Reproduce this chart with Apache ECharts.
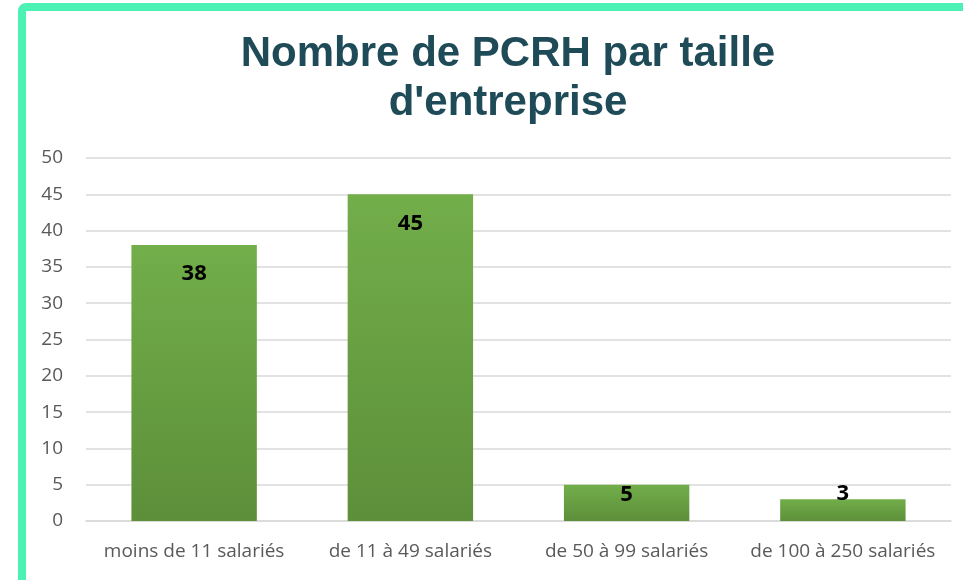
<!DOCTYPE html>
<html>
<head>
<meta charset="utf-8">
<script src="https://cdn.jsdelivr.net/npm/echarts@6/dist/echarts.min.js"></script>
<style>
  html, body { margin: 0; padding: 0; background: #fff; }
  #chart { width: 963px; height: 580px; }
</style>
</head>
<body>
<div id="chart"></div>
<script>
// données
const categories = ["moins de 11 salariés", "de 11 à 49 salariés", "de 50 à 99 salariés", "de 100 à 250 salariés"];
const values = [38, 45, 5, 3];
const titleText = "Nombre de PCRH par taille\nd'entreprise";

const chart = echarts.init(document.getElementById("chart"));

// étiquette dans la barre, sauf pour les petites valeurs
const seriesData = values.map(function (v) {
  if (v >= 10) {
    return { value: v, label: { position: "insideTop", distance: 18 } };
  }
  return { value: v, label: { position: "top", distance: v > 4 ? -21 : -6 } };
});

const option = {
  animation: false,
  graphic: [
    {
      type: "rect",
      shape: { x: 22, y: 7, width: 1000, height: 578, r: 4 },
      style: { fill: "none", stroke: "#4cf2b4", lineWidth: 8 },
      silent: true
    }
  ],
  title: {
    text: titleText,
    left: 503,
    textAlign: "center",
    top: 25,
    textStyle: {
      fontFamily: "Liberation Sans",
      fontWeight: "bold",
      fontSize: 42,
      lineHeight: 49,
      color: "#1e4b57"
    }
  },
  grid: { left: 86, right: 12, top: 158, bottom: 59, containLabel: false },
  xAxis: {
    type: "category",
    data: categories,
    axisTick: { show: false },
    axisLine: { lineStyle: { color: "#d9d9d9", width: 1.5 } },
    axisLabel: {
      interval: 0,
      hideOverlap: false,
      color: "#595959",
      fontFamily: "Open Sans",
      fontSize: 19,
      margin: 21
    }
  },
  yAxis: {
    type: "value",
    min: 0,
    max: 50,
    interval: 5,
    axisLine: { show: false },
    axisTick: { show: false },
    splitLine: { lineStyle: { color: "#d9d9d9", width: 1.5 } },
    axisLabel: {
      color: "#595959",
      fontFamily: "Open Sans",
      fontSize: 19,
      margin: 23
    }
  },
  series: [
    {
      type: "bar",
      data: seriesData,
      barWidth: "58%",
      itemStyle: {
        color: new echarts.graphic.LinearGradient(0, 0, 0, 1, [
          { offset: 0, color: "#72ae4a" },
          { offset: 1, color: "#5d8f3a" }
        ])
      },
      label: {
        show: true,
        color: "#000",
        fontWeight: "bold",
        fontFamily: "Open Sans",
        fontSize: 22
      }
    }
  ]
};

chart.setOption(option);
</script>
</body>
</html>
